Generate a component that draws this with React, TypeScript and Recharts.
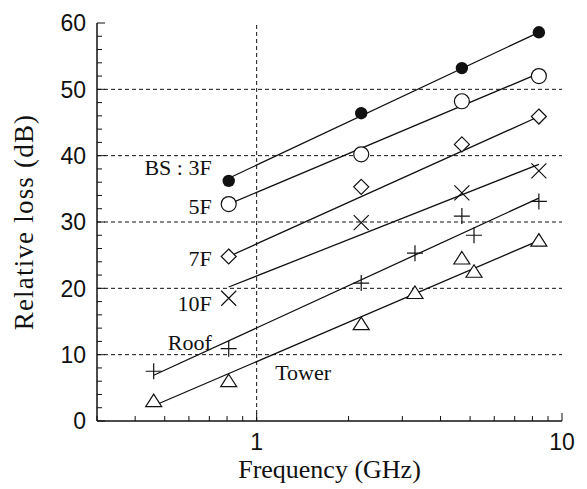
import React from 'react'
import { ScatterChart, Scatter, XAxis, YAxis, ReferenceLine, ReferenceDot, Label } from 'recharts'

// measured relative loss (dB) vs frequency (GHz), one list per floor
const bs3F = [
  { f: 0.81, loss: 36.2 }, { f: 2.2, loss: 46.4 }, { f: 4.7, loss: 53.2 }, { f: 8.4, loss: 58.6 },
]
const f5F = [
  { f: 0.81, loss: 32.7 }, { f: 2.2, loss: 40.2 }, { f: 4.7, loss: 48.2 }, { f: 8.4, loss: 52.0 },
]
const f7F = [
  { f: 0.81, loss: 24.8 }, { f: 2.2, loss: 35.3 }, { f: 4.7, loss: 41.7 }, { f: 8.4, loss: 45.9 },
]
const f10F = [
  { f: 0.81, loss: 18.5 }, { f: 2.2, loss: 29.9 }, { f: 4.7, loss: 34.4 }, { f: 8.4, loss: 37.7 },
]
const roof = [
  { f: 0.46, loss: 7.5 }, { f: 0.81, loss: 10.9 }, { f: 2.2, loss: 20.8 }, { f: 3.3, loss: 25.3 },
  { f: 4.7, loss: 30.9 }, { f: 5.15, loss: 28.0 }, { f: 8.4, loss: 33.1 },
]
const tower = [
  { f: 0.46, loss: 3.0 }, { f: 0.81, loss: 6.0 }, { f: 2.2, loss: 14.6 }, { f: 3.3, loss: 19.3 },
  { f: 4.7, loss: 24.5 }, { f: 5.15, loss: 22.5 }, { f: 8.4, loss: 27.2 },
]

// regression line end points
const fit3F = [{ f: 0.81, loss: 36.6 }, { f: 8.4, loss: 58.6 }]
const fit5F = [{ f: 0.81, loss: 32.7 }, { f: 8.4, loss: 52.4 }]
const fit7F = [{ f: 0.81, loss: 24.8 }, { f: 8.4, loss: 45.9 }]
const fit10F = [{ f: 0.81, loss: 20.2 }, { f: 8.4, loss: 38.7 }]
const fitRoof = [{ f: 0.46, loss: 6.9 }, { f: 8.4, loss: 33.6 }]
const fitTower = [{ f: 0.46, loss: 2.3 }, { f: 8.4, loss: 27.2 }]

// text labels placed next to the curves
const notes = [
  { text: 'BS : 3F', f: 0.81, loss: 38.2, side: 'left' },
  { text: '5F', f: 0.81, loss: 32.4, side: 'left' },
  { text: '7F', f: 0.81, loss: 24.6, side: 'left' },
  { text: '10F', f: 0.81, loss: 17.7, side: 'left' },
  { text: 'Roof', f: 0.81, loss: 11.9, side: 'left' },
  { text: 'Tower', f: 1.15, loss: 7.4, side: 'right' },
]

const xTicks = [0.3, 0.4, 0.5, 0.6, 0.7, 0.8, 0.9, 1, 2, 3, 4, 5, 6, 7, 8, 9, 10]
const xLabels = [1, 10]
const yTicks = [0, 2, 4, 6, 8, 10, 12, 14, 16, 18, 20, 22, 24, 26, 28, 30, 32, 34, 36, 38, 40, 42, 44, 46, 48, 50, 52, 54, 56, 58, 60]
const yLabels = [0, 10, 20, 30, 40, 50, 60]
const gridY = [10, 20, 30, 40, 50]

const serif = 'Liberation Serif, Times New Roman, serif'
const sans = 'Liberation Sans, Arial, sans-serif'
const ink = '#111'

const FilledCircle = ({ cx, cy }: any) => <circle cx={cx} cy={cy} r={6.2} fill={ink} />
const OpenCircle = ({ cx, cy }: any) => <circle cx={cx} cy={cy} r={7.5} fill="#fff" stroke={ink} strokeWidth={1.2} />
const Diamond = ({ cx, cy }: any) => (
  <path d={`M${cx},${cy - 7.5} L${cx + 7.5},${cy} L${cx},${cy + 7.5} L${cx - 7.5},${cy} Z`} fill="#fff" stroke={ink} strokeWidth={1.2} />
)
const Cross = ({ cx, cy }: any) => (
  <path d={`M${cx - 7.5},${cy - 7.5} L${cx + 7.5},${cy + 7.5} M${cx - 7.5},${cy + 7.5} L${cx + 7.5},${cy - 7.5}`} stroke={ink} strokeWidth={1.2} />
)
const Plus = ({ cx, cy }: any) => (
  <path d={`M${cx - 8},${cy} L${cx + 8},${cy} M${cx},${cy - 8} L${cx},${cy + 8}`} stroke={ink} strokeWidth={1.2} />
)
const Triangle = ({ cx, cy }: any) => (
  <path d={`M${cx},${cy - 7} L${cx + 8},${cy + 5.5} L${cx - 8},${cy + 5.5} Z`} fill="#fff" stroke={ink} strokeWidth={1.2} />
)
const NoDot = () => null

const BottomTick = ({ x, y, payload }: any) => {
  const major = xLabels.includes(payload.value)
  return (
    <g>
      <line x1={x} x2={x} y1={y} y2={y - (major ? 8 : 5)} stroke={ink} />
      {major && (
        <text x={x} y={y + 29} textAnchor="middle" style={{ fontFamily: sans, fontSize: 23 }} fill={ink}>{payload.value}</text>
      )}
    </g>
  )
}
const TopTick = ({ x, y, payload }: any) => (
  <line x1={x} x2={x} y1={y} y2={y + (xLabels.includes(payload.value) ? 8 : 5)} stroke={ink} />
)
const LeftTick = ({ x, y, payload }: any) => {
  const major = yLabels.includes(payload.value)
  return (
    <g>
      <line x1={x} x2={x + (major ? 8 : 5)} y1={y} y2={y} stroke={ink} />
      {major && (
        <text x={x - 11} y={y} dy="0.36em" textAnchor="end" style={{ fontFamily: sans, fontSize: 23 }} fill={ink}>{payload.value}</text>
      )}
    </g>
  )
}
const RightTick = ({ x, y, payload }: any) => (
  <line x1={x} x2={x - (yLabels.includes(payload.value) ? 8 : 5)} y1={y} y2={y} stroke={ink} />
)

const series = [
  { data: bs3F, fit: fit3F, shape: FilledCircle },
  { data: f5F, fit: fit5F, shape: OpenCircle },
  { data: f7F, fit: fit7F, shape: Diamond },
  { data: f10F, fit: fit10F, shape: Cross },
  { data: roof, fit: fitRoof, shape: Plus },
  { data: tower, fit: fitTower, shape: Triangle },
]

const XTitle = ({ viewBox }: any) => (
  <text
    x={viewBox.x + viewBox.width / 2} y={viewBox.y + 57} textAnchor="middle" fill={ink}
    style={{ fontFamily: serif, fontSize: 26 }}
  >
    Frequency (GHz)
  </text>
)

const YTitle = ({ viewBox }: any) => {
  const cx = viewBox.x + 24
  const cy = viewBox.y + viewBox.height / 2
  return (
    <text
      x={cx} y={cy} dy="0.35em" textAnchor="middle" transform={`rotate(-90 ${cx} ${cy})`} fill={ink}
      style={{ fontFamily: serif, fontSize: 27, letterSpacing: 1.2 }}
    >
      Relative loss (dB)
    </text>
  )
}

export default function App() {
  return (
    <div style={{ position: 'absolute', left: 0, top: 0, background: '#fff' }}>
      <style>{'body{margin:0;background:#fff}'}</style>
      <ScatterChart width={587} height={489} margin={{ top: 23, right: 25, bottom: 0, left: 0 }}>
        <XAxis
          dataKey="f" type="number" scale="log" domain={[0.3, 10]} allowDataOverflow
          ticks={xTicks} interval={0} height={68}
          tickSize={0} tickMargin={0} tickLine={false}
          axisLine={{ stroke: ink, strokeWidth: 1.5 }}
          tick={<BottomTick />}
        >
          <Label content={XTitle} />
        </XAxis>
        <XAxis
          xAxisId="top" orientation="top" dataKey="f" type="number" scale="log" domain={[0.3, 10]} allowDataOverflow
          ticks={xTicks} interval={0} height={0}
          tickSize={0} tickMargin={0} tickLine={false}
          axisLine={{ stroke: ink, strokeWidth: 1.5 }}
          tick={<TopTick />}
        />
        <YAxis
          dataKey="loss" type="number" domain={[0, 60]} allowDataOverflow
          ticks={yTicks} interval={0} width={97}
          tickSize={0} tickMargin={0} tickLine={false}
          axisLine={{ stroke: ink, strokeWidth: 1.5 }}
          tick={<LeftTick />}
        >
          <Label content={YTitle} />
        </YAxis>
        <YAxis
          yAxisId="right" orientation="right" dataKey="loss" type="number" domain={[0, 60]} allowDataOverflow
          ticks={yTicks} interval={0} width={0}
          tickSize={0} tickMargin={0} tickLine={false}
          axisLine={{ stroke: ink, strokeWidth: 1.5 }}
          tick={<RightTick />}
        />

        {gridY.map(v => (
          <ReferenceLine key={v} y={v} stroke={ink} strokeWidth={1} strokeDasharray="4 3" />
        ))}
        <ReferenceLine x={1} stroke={ink} strokeWidth={1} strokeDasharray="4 3" />

        {series.map((s, i) => (
          <Scatter key={'fit' + i} data={s.fit} line={{ stroke: ink, strokeWidth: 1.3 }} shape={NoDot} isAnimationActive={false} />
        ))}
        {series.map((s, i) => (
          <Scatter key={'pts' + i} data={s.data} shape={s.shape} isAnimationActive={false} />
        ))}

        {notes.map(n => (
          <ReferenceDot
            key={n.text} x={n.f} y={n.loss} r={0} stroke="none" fill="none"
            label={{ value: n.text, position: n.side as any, offset: n.side === 'left' ? 17 : 0, fontFamily: serif, fontSize: 22, fill: ink }}
          />
        ))}
      </ScatterChart>
    </div>
  )
}
